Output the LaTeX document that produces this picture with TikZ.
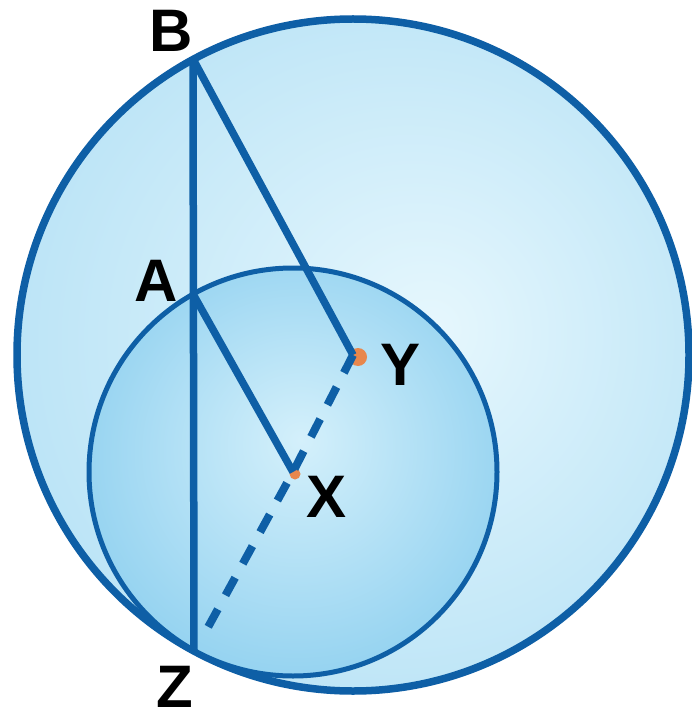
\documentclass[tikz,border=0pt]{standalone}
\usepackage{fontspec}
\setmainfont{Liberation Sans}
\definecolor{strokeblue}{HTML}{0E5FA6}
\definecolor{bigin}{HTML}{E6F7FD}
\definecolor{bigout}{HTML}{B9E3F6}
\definecolor{smallin}{HTML}{D4F0FB}
\definecolor{smallout}{HTML}{93D2F0}
\definecolor{dotorange}{HTML}{E8874C}
\pgfdeclareradialshading{bigshade}{\pgfpoint{6bp}{2bp}}{color(0bp)=(bigin); color(30bp)=(bigout); color(50bp)=(bigout)}
\pgfdeclareradialshading{smallshade}{\pgfpoint{1bp}{4bp}}{color(0bp)=(smallin); color(28bp)=(smallout); color(50bp)=(smallout)}
\tikzset{
  rim/.style={draw=strokeblue, line width=7.5pt},
  smallrim/.style={draw=strokeblue, line width=5pt},
  seg/.style={draw=strokeblue, line width=7.5pt},
  dashseg/.style={draw=strokeblue, line width=8pt, dash pattern=on 20pt off 16pt},
  centredot/.style={fill=dotorange},
  lbl/.style={font=\fontsize{60}{60}\selectfont\bfseries, inner sep=0pt, text=black}
}
\begin{document}
\begin{tikzpicture}[x=1pt,y=-1pt]
\useasboundingbox (0,0) rectangle (692,719);
\fill[white] (0,0) rectangle (692,719);
% centres and points
\coordinate (Y) at (353,355);
\coordinate (X) at (293,472);
\coordinate (B) at (193,59);
\coordinate (A) at (193,294);
\coordinate (Z) at (194,652);
% big circle
\shade[shading=bigshade] (Y) circle[radius=336];
\draw[rim] (Y) circle[radius=336];
% small circle
\shade[shading=smallshade] (X) circle[radius=204];
\draw[smallrim] (X) circle[radius=204];
% centre dots
\fill[centredot] (358,357) circle[radius=9];
\fill[centredot] (295,474) circle[radius=5.5];
% segments
\draw[seg] (B) -- (Z);
\draw[seg] (B) -- (Y);
\draw[seg] (A) -- (X);
\draw[dashseg] (Y) -- (X) -- (201,640);
% labels
\node[lbl] (lB) at (171,31) {B};
\node[lbl] (lA) at (156,281) {A};
\node[lbl] (lY) at (401,365) {Y};
\node[lbl] (lX) at (327,497) {X};
\node[lbl] (lZ) at (175,687) {Z};
\end{tikzpicture}
\end{document}
